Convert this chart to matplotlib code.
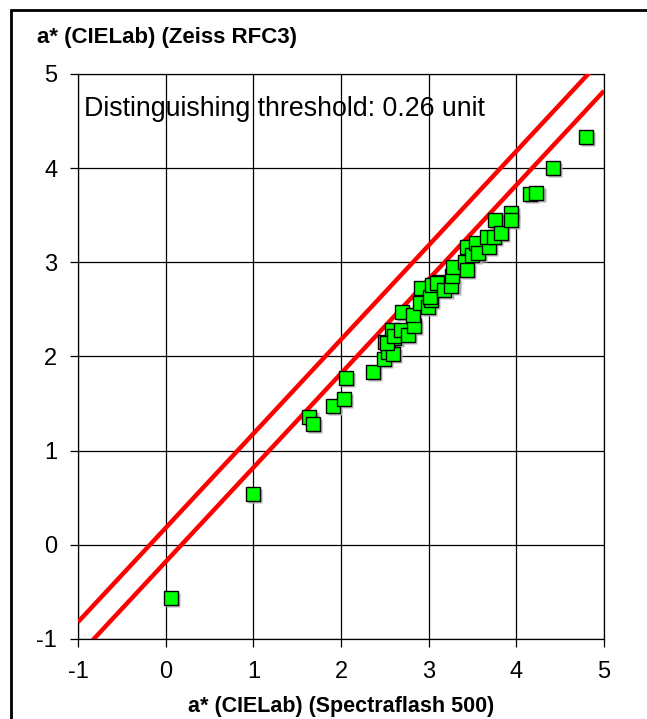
import numpy as np
import matplotlib.pyplot as plt
import matplotlib.transforms as mtransforms
from matplotlib.patches import Rectangle

plt.rcParams['font.family'] = ['Liberation Sans', 'DejaVu Sans']
plt.rcParams['axes.unicode_minus'] = False

# a* readings: Spectraflash 500 (x) vs Zeiss RFC3 (y)
spectraflash = [0.06, 1.00, 1.64, 1.68, 1.91, 2.03, 2.06, 2.36, 2.49, 2.54,
                2.59, 2.50, 2.58, 2.61, 2.52, 2.61, 2.70, 2.69, 2.76, 2.83,
                2.82, 2.91, 2.90, 2.99, 3.03, 3.01, 3.04, 3.12, 3.10, 3.18,
                3.26, 3.27, 3.28, 3.42, 3.44, 3.44, 3.50, 3.54, 3.56, 3.69,
                3.67, 3.74, 3.76, 3.83, 3.94, 3.94, 4.16, 4.23, 4.42, 4.79]
zeiss = [-0.56, 0.54, 1.36, 1.28, 1.47, 1.55, 1.77, 1.84, 1.97, 2.05,
         2.03, 2.15, 2.28, 2.20, 2.14, 2.22, 2.47, 2.28, 2.23, 2.32,
         2.44, 2.73, 2.57, 2.53, 2.60, 2.63, 2.76, 2.79, 2.78, 2.71,
         2.75, 2.85, 2.95, 3.00, 2.92, 3.16, 3.08, 3.21, 3.10, 3.16,
         3.27, 3.27, 3.45, 3.31, 3.52, 3.45, 3.73, 3.74, 4.00, 4.33]

threshold = 0.26
offset = 0.18  # vertical shift of the tolerance lines
ticks = [-1, 0, 1, 2, 3, 4, 5]

fig = plt.figure(figsize=(6.47, 7.19), dpi=100)
ax = fig.add_axes([0.1206, 0.1113, 0.8129, 0.7858])

# outer frame (left and top edges show)
fig.patches.append(Rectangle((11 / 647, -0.05), 1.0, 1 - 10 / 719 + 0.05,
                             transform=fig.transFigure, fill=False,
                             edgecolor='black', linewidth=2.0))

# tolerance band around y = x
xs = np.array([-1.0, 5.0])
ax.plot(xs, xs + offset, color='red', lw=3.2, zorder=3, solid_capstyle='butt')
ax.plot(xs, xs - offset, color='red', lw=3.2, zorder=3, solid_capstyle='butt')

# squares with a soft grey drop shadow
shadow = mtransforms.offset_copy(ax.transData, fig=fig, x=1.5, y=-1.5, units='points')
ax.plot(spectraflash, zeiss, 's', ms=9.8, color='#b0b0b0', mec='none',
        transform=shadow, zorder=4)
ax.plot(spectraflash, zeiss, 's', ms=9.8, color='#00ff00', mec='black',
        mew=1.0, zorder=5)

ax.set_xlim(-1, 5)
ax.set_ylim(-1, 5)
ax.set_xticks(ticks)
ax.set_yticks(ticks)
ax.grid(True, color='black', lw=0.9)
ax.set_axisbelow(True)
ax.tick_params(direction='out', length=6, width=0.9, labelsize=17)
ax.tick_params(axis='x', pad=10)
ax.tick_params(axis='y', pad=9)
for sp in ax.spines.values():
    sp.set_linewidth(0.9)

ax.text(-0.93, 4.63, 'Distinguishing threshold: %.2f unit' % threshold,
        fontsize=19.3, ha='left', va='center', zorder=6)

ax.set_xlabel('a* (CIELab) (Spectraflash 500)', fontsize=15.5,
              fontweight='bold', labelpad=9)
fig.text(37 / 647, 1 - 37 / 719, 'a* (CIELab) (Zeiss RFC3)', fontsize=16,
         fontweight='bold', ha='left', va='center')

fig.savefig('out.png', dpi=100)
